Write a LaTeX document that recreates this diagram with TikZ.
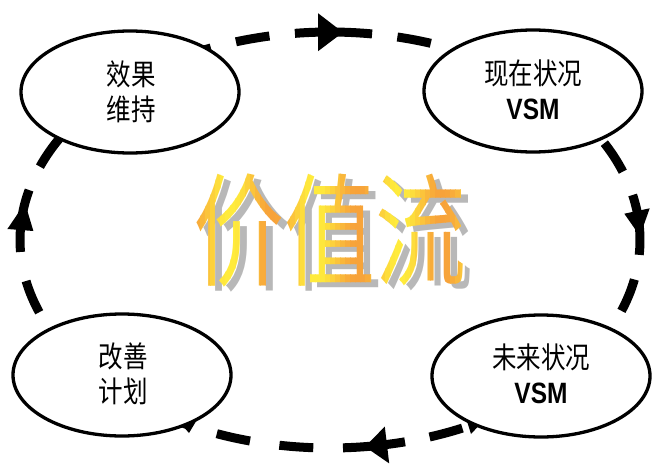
\documentclass[tikz,border=0pt]{standalone}
\usepackage{fontspec}
\setmainfont{Liberation Sans}
\newfontfamily\cjk{Noto Sans CJK SC}
\usetikzlibrary{shapes.geometric}
\definecolor{VOrange}{HTML}{F7A23A}
\definecolor{VYellow}{HTML}{FFEC3C}
\definecolor{VShadow}{HTML}{B8B8B8}
\newcommand{\stagetext}[2]{\scalebox{1}[1.2]{\begin{tabular}{@{}c@{}}#1\\#2\end{tabular}}}
\newcommand{\bigword}{\scalebox{1}[1.34]{价值流}}
\begin{document}
\begin{tikzpicture}[x=1pt,y=-1pt,
  loopline/.style={line width=9pt, dash pattern=on 34pt off #1, dash phase=34pt},
  stem/.style={line width=9pt},
  head/.style={fill=black, draw=none},
  stage/.style={ellipse, draw=black, line width=3.3pt, fill=white, inner sep=0pt,
    minimum width=218pt, minimum height=122pt},
  stagelabel/.style={inner sep=0pt, align=center, font=\cjk\fontsize{24.5}{29.5}\selectfont},
  bigtext/.style={inner sep=0pt, font=\cjk\fontsize{91}{91}\selectfont},
  orbit/.style={x radius=310, y radius=208},
]
\useasboundingbox (0,0) rectangle (653,466);
\coordinate (O) at (330,240);
% dashed loop, one dashed arc between each pair of arrows
\draw[loopline=25.5pt] (O) ++(-82.2:310 and 208) arc[start angle=-82.2, end angle=-12.5, orbit];
\draw[loopline=25.1pt] (O) ++(4.1:310 and 208) arc[start angle=4.1, end angle=76, orbit];
\draw[loopline=29.7pt] (O) ++(87.6:310 and 208) arc[start angle=87.6, end angle=176.7, orbit];
\draw[loopline=25.8pt] (O) ++(193.9:310 and 208) arc[start angle=193.9, end angle=263.5, orbit];
% arrow stems
\draw[stem] (O) ++(-96.5:310 and 208) arc[start angle=-96.5, end angle=-82.2, orbit];
\draw[stem] (O) ++(-12.5:310 and 208) arc[start angle=-12.5, end angle=4.1, orbit];
\draw[stem] (O) ++(76:310 and 208) arc[start angle=76, end angle=87.6, orbit];
\draw[stem] (O) ++(176.7:310 and 208) arc[start angle=176.7, end angle=193.9, orbit];
% arrow heads
\fill[head] (318,13.2) -- (343,32.4) -- (318,51.2) -- cycle;
\fill[head] (624.3,213.7) -- (649.7,208.3) -- (639.9,236) -- cycle;
\fill[head] (389.2,463.4) -- (384.8,426.6) -- (365,446.7) -- cycle;
\fill[head] (7.4,229) -- (33.4,231) -- (25,203) -- cycle;
% partly hidden heads
\fill[head] (176,418) -- (198,418) -- (189,433) -- cycle;
\fill[head] (466,418) -- (486,418) -- (471,434) -- cycle;
% stages
\node[stage] (keep) at (130,92) {};
\node[stage] (cur) at (533,91) {};
\node[stage] (plan) at (122,375) {};
\node[stage] (fut) at (541,376) {};
\node[stagelabel] (keepl) at (131,96) {\stagetext{效果}{维持}};
\node[stagelabel] (curl) at (533,95) {\stagetext{现在状况}{\normalfont\bfseries VSM}};
\node[stagelabel] (planl) at (123,378) {\stagetext{改善}{计划}};
\node[stagelabel] (futl) at (541,379) {\stagetext{未来状况}{\normalfont\bfseries VSM}};
% central title with shadow and gradient
\node[bigtext, text=VShadow] (vshadow) at (337,236) {\bigword};
\foreach \i in {0,...,55} {
  \pgfmathsetmacro\xa{195+5*\i}
  \pgfmathsetmacro\mixv{50+50*cos(4.2353*(\xa+2.5-315))}
  \colorlet{stripcol}{VYellow!\mixv!VOrange}
  \begin{scope}
    \clip (\xa,150) rectangle ++(5.4,170);
    \node[bigtext, text=stripcol] (v\i) at (330,231) {\bigword};
  \end{scope}
}
\end{tikzpicture}
\end{document}
